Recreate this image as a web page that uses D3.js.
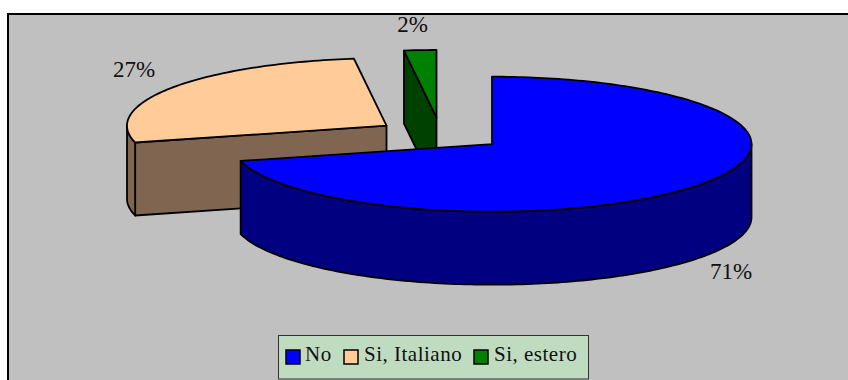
<!DOCTYPE html>
<html><head><meta charset="utf-8">
<script src="https://cdn.jsdelivr.net/npm/d3@7"></script>
<style>html,body{margin:0;padding:0;background:#fff;overflow:hidden}svg{display:block}text{font-family:"Liberation Serif",serif;fill:#111}</style>
</head><body><svg id="c" width="848" height="380"></svg>
<script>
const categories = ["No", "Si, Italiano", "Si, estero"];
const values = [71, 27, 2];
const labels = ["71%", "27%", "2%"];
const topColors = ["#0000FF", "#FFCC99", "#008000"];
const sideColors = ["#000080", "#806650", "#004000"];

const RX = 259.5, RY = 67.5, DEPTH = 73;
const centers = [[492, 144.2], [386.5, 125.7], [436.5, 117.5]];
const labelPos = [[731, 279], [134, 77], [412.5, 32]];

const svg = d3.select("#c");
svg.append("rect").attr("x", 8).attr("y", 14).attr("width", 860).attr("height", 390)
  .attr("fill", "#C0C0C0").attr("stroke", "#000").attr("stroke-width", 2);

const arcs = d3.pie().sort(null).value(d => d)(values);
const pt = (c, a, dy = 0) => [c[0] + RX * Math.sin(a), c[1] - RY * Math.cos(a) + dy];
const line = d3.line();
const arcPts = (c, a0, a1, dy = 0) => {
  const n = Math.max(2, Math.ceil(Math.abs(a1 - a0) / 0.02));
  return d3.range(n + 1).map(i => pt(c, a0 + (a1 - a0) * i / n, dy));
};
const stroke = s => s.attr("stroke", "#000").attr("stroke-width", 1.8).attr("stroke-linejoin", "round");
const poly = (pts, fill) => stroke(svg.append("path").attr("d", line(pts) + "Z").attr("fill", fill));

// draw back-to-front: green, peach, blue
[2, 1, 0].forEach(i => {
  const c = centers[i], d = arcs[i], a0 = d.startAngle, a1 = d.endAngle;
  const top = [c, ...arcPts(c, a0, a1)];
  if (i === 2) {
    const p = pt(c, a0);
    poly([p, c, [c[0], c[1] + DEPTH], [p[0], p[1] + DEPTH]], sideColors[i]);
  }
  if (i === 1) {
    const p = pt(c, a0);
    poly([c, [c[0], c[1] + DEPTH], [p[0], p[1] + DEPTH], p], sideColors[i]);
    const wall = arcPts(c, a0, 1.5 * Math.PI);
    poly([...wall, ...arcPts(c, 1.5 * Math.PI, a0, DEPTH)], sideColors[i]);
  }
  if (i === 0) {
    const wall = arcPts(c, Math.PI / 2, a1);
    poly([...wall, ...arcPts(c, a1, Math.PI / 2, DEPTH)], sideColors[i]);
  }
  poly(top, topColors[i]);
});

labels.forEach((t, i) => svg.append("text").attr("x", labelPos[i][0]).attr("y", labelPos[i][1])
  .attr("text-anchor", "middle").attr("font-size", 23).text(t));

// legend
const lg = svg.append("g");
lg.append("rect").attr("x", 278.5).attr("y", 335.5).attr("width", 310).attr("height", 43.5)
  .attr("fill", "#C0DCC0").attr("stroke", "#333").attr("stroke-width", 1);
const lx = [286, 344, 474], tx = [305, 364, 494];
categories.forEach((t, i) => {
  lg.append("rect").attr("x", lx[i]).attr("y", 350).attr("width", 14).attr("height", 14)
    .attr("fill", topColors[i]).attr("stroke", "#000").attr("stroke-width", 1.5);
  lg.append("text").attr("x", tx[i]).attr("y", 361).attr("font-size", 21).attr("letter-spacing", 0.5).text(t);
});
</script></body></html>
